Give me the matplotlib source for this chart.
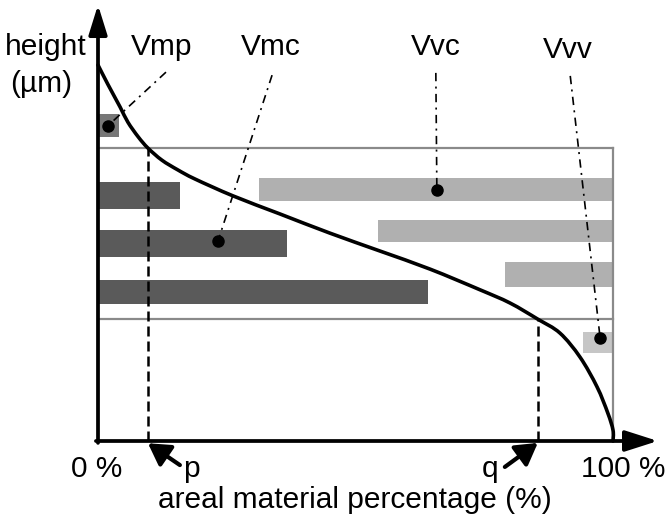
import matplotlib
matplotlib.use("Agg")
import matplotlib.pyplot as plt
from matplotlib.patches import Rectangle, PathPatch
from matplotlib.path import Path

plt.rcParams['font.family'] = ['Liberation Sans', 'DejaVu Sans']

# Abbott-Firestone (material ratio) curve, height as % of max
mr_pct = [0, 1.9, 4.3, 5.8, 7.8, 9.7, 12.4, 15.5, 18.8, 26.2, 35.3, 45.0, 54.8,
          64.5, 74.2, 80.0, 85.4, 89.7, 93.6, 96.9, 99.0, 100, 100]
height = [100, 94.9, 88.8, 84.8, 80.9, 77.9, 74.7, 72.1, 69.7, 65.2, 60.4, 55.3, 50.5,
          45.7, 40.2, 36.7, 32.4, 28.7, 22.3, 14.4, 7.4, 2.9, 0]

p_mr, p_h = 9.7, 77.9     # material ratio p and its height
q_mr, q_h = 85.4, 32.4    # material ratio q and its height

# volume bars: (left, right, bottom, top)
vmp_bars = [(0, 4.1, 80.9, 87.0)]
vmc_bars = [(0, 15.9, 61.7, 68.9), (0, 36.7, 48.9, 56.1), (0, 64.1, 36.4, 42.8)]
vvc_bars = [(31.3, 100, 63.8, 69.9), (54.4, 100, 52.9, 58.8), (79.0, 100, 41.0, 47.6)]
vvv_bars = [(94.2, 100, 23.4, 29.0)]

# labels with leader lines: name, text pos, line start, dot pos
labels = ["Vmp", "Vmc", "Vvc", "Vvv"]
label_x = [12.4, 33.6, 65.6, 91.3]
label_y = [102.7, 102.7, 102.7, 101.9]
lead_start = [(13.2, 98.1), (33.8, 97.3), (65.6, 97.9), (91.7, 97.1)]
lead_dot = [(1.9, 83.8), (23.3, 53.2), (65.8, 66.8), (97.5, 27.4)]

fig = plt.figure(figsize=(6.66, 5.18), dpi=100)
ax = fig.add_axes([0, 0, 1, 1])
ax.set_xlim(-98 / 5.15, (666 - 98) / 5.15)
ax.set_ylim(-77 / 3.76, (518 - 77) / 3.76)
ax.axis('off')

def draw_bars(bars, color):
    for x0, x1, y0, y1 in bars:
        ax.add_patch(Rectangle((x0, y0), x1 - x0, y1 - y0, facecolor=color,
                               edgecolor='none', zorder=1))

draw_bars(vmp_bars, '#777777')
draw_bars(vmc_bars, '#5a5a5a')
draw_bars(vvc_bars, '#b0b0b0')
draw_bars(vvv_bars, '#c6c6c6')

# gray frame for the core zone
gray = '#8a8a8a'
ax.plot([0, 100], [p_h, p_h], color=gray, lw=1.6, zorder=2)
ax.plot([0, 100], [q_h, q_h], color=gray, lw=1.6, zorder=2)
ax.plot([100, 100], [0, p_h], color=gray, lw=1.6, zorder=2)

# dashed drop lines
ax.plot([p_mr, p_mr], [0, p_h], color='black', lw=1.8, ls=(0, (4, 2)), zorder=3)
ax.plot([q_mr, q_mr], [0, q_h], color='black', lw=1.8, ls=(0, (4, 2)), zorder=3)

# curve drawn as a smooth bezier through the read points
pts = list(zip(mr_pct, height))
verts = [pts[0]]
codes = [Path.MOVETO]
for i in range(len(pts) - 1):
    p0 = pts[max(i - 1, 0)]
    p1 = pts[i]
    p2 = pts[i + 1]
    p3 = pts[min(i + 2, len(pts) - 1)]
    c1 = (p1[0] + (p2[0] - p0[0]) / 6, p1[1] + (p2[1] - p0[1]) / 6)
    c2 = (p2[0] - (p3[0] - p1[0]) / 6, p2[1] - (p3[1] - p1[1]) / 6)
    verts += [c1, c2, p2]
    codes += [Path.CURVE4] * 3
ax.add_patch(PathPatch(Path(verts, codes), facecolor='none', edgecolor='black',
                       lw=2.6, capstyle='round', joinstyle='round', zorder=4))

# axes with arrow heads
ax.annotate('', xy=(0, 116.0), xytext=(0, -0.5),
            arrowprops=dict(arrowstyle='-|>,head_length=0.9,head_width=0.28',
                            mutation_scale=20, lw=2.7, color='black',
                            shrinkA=0, shrinkB=0), zorder=5)
ax.annotate('', xy=(108.7, 0), xytext=(-0.4, 0),
            arrowprops=dict(arrowstyle='-|>,head_length=1.0,head_width=0.32',
                            mutation_scale=20, lw=2.7, color='black',
                            shrinkA=0, shrinkB=0), zorder=5)

# p and q pointer arrows
for tail, tip in [((15.9, -6.4), (p_mr, -0.6)), ((79.0, -6.9), (q_mr, -0.5))]:
    ax.annotate('', xy=tip, xytext=tail,
                arrowprops=dict(arrowstyle='-|>,head_length=0.65,head_width=0.38',
                                mutation_scale=20, lw=3.0, color='black',
                                shrinkA=0, shrinkB=0), zorder=5)

# leader lines and labels
for name, tx, ty, (sx, sy), (dx, dy) in zip(labels, label_x, label_y, lead_start, lead_dot):
    ax.plot([sx, dx], [sy, dy], color='black', lw=1.2,
            ls=(0, (5, 3.2, 1.2, 3.2)), zorder=6)
    ax.plot(dx, dy, 'o', color='black', ms=8, zorder=7)
    ax.text(tx, ty, name, fontsize=21.5, ha='center', va='baseline')

fs = 21.5
ax.text(-18.1, 102.7, 'height', fontsize=fs, ha='left', va='baseline')
ax.text(-17.1, 92.8, '(µm)', fontsize=fs, ha='left', va='baseline')
ax.text(-0.2, -9.6, '0 %', fontsize=fs, ha='center', va='baseline')
ax.text(18.1, -9.6, 'p', fontsize=fs, ha='center', va='baseline')
ax.text(76.1, -9.6, 'q', fontsize=fs, ha='center', va='baseline')
ax.text(101.9, -9.6, '100 %', fontsize=fs, ha='center', va='baseline')
ax.text(49.9, -17.8, 'areal material percentage (%)', fontsize=fs,
        ha='center', va='baseline')

fig.savefig('out.png', dpi=100)
